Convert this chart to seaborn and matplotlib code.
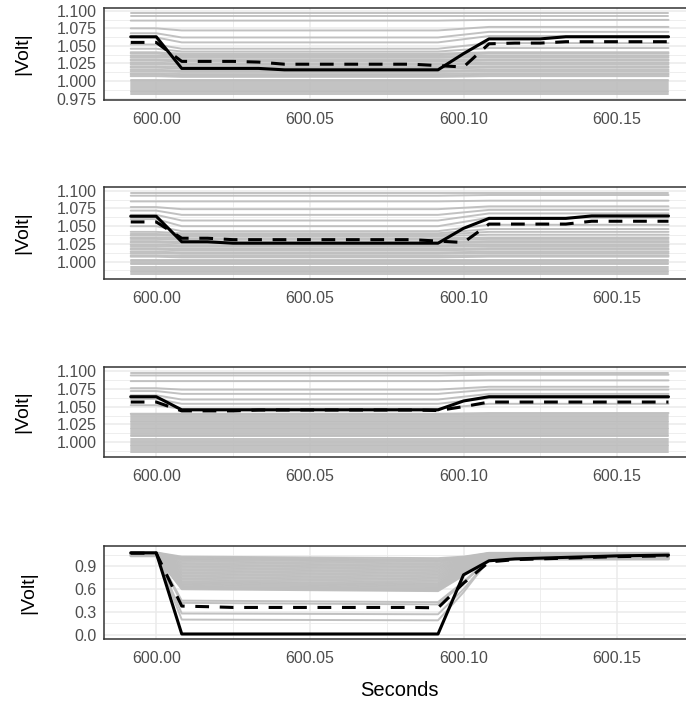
import numpy as np
import pandas as pd
import matplotlib
matplotlib.use("Agg")
import matplotlib.pyplot as plt
import seaborn as sns

# time stamps (seconds)
t = [599.9917, 600.0000, 600.0083, 600.0167, 600.0250, 600.0333, 600.0417, 600.0500,
     600.0583, 600.0667, 600.0750, 600.0833, 600.0917, 600.1000, 600.1083, 600.1167,
     600.1250, 600.1333, 600.1417, 600.1500, 600.1583, 600.1667]

# black lines (solid / dashed) per panel
p1_solid = [1.063, 1.063, 1.018, 1.018, 1.018, 1.018, 1.016, 1.016, 1.016, 1.016, 1.016,
            1.016, 1.016, 1.039, 1.060, 1.060, 1.060, 1.063, 1.063, 1.063, 1.063, 1.063]
p1_dash = [1.055, 1.055, 1.028, 1.028, 1.028, 1.027, 1.024, 1.024, 1.024, 1.024, 1.024,
           1.024, 1.022, 1.020, 1.053, 1.054, 1.054, 1.056, 1.056, 1.056, 1.056, 1.056]
p2_solid = [1.064, 1.064, 1.028, 1.028, 1.026, 1.026, 1.026, 1.026, 1.026, 1.026, 1.026,
            1.026, 1.026, 1.047, 1.061, 1.061, 1.061, 1.061, 1.0645, 1.0645, 1.0645, 1.0645]
p2_dash = [1.056, 1.056, 1.033, 1.033, 1.031, 1.031, 1.031, 1.031, 1.031, 1.031, 1.031,
           1.031, 1.029, 1.027, 1.053, 1.053, 1.053, 1.053, 1.057, 1.057, 1.057, 1.057]
p3_solid = [1.064, 1.064, 1.0455, 1.0455, 1.0455, 1.0455, 1.0455, 1.0455, 1.0455, 1.0455, 1.0455,
            1.0455, 1.0455, 1.058, 1.064, 1.064, 1.064, 1.064, 1.064, 1.064, 1.064, 1.064]
p3_dash = [1.0565, 1.0565, 1.044, 1.044, 1.044, 1.0452, 1.0452, 1.0452, 1.0452, 1.0452, 1.0452,
           1.0452, 1.0445, 1.050, 1.0565, 1.0565, 1.0565, 1.0565, 1.0565, 1.0565, 1.0565, 1.0565]
p4_solid = [1.08, 1.08, 0.01, 0.01, 0.01, 0.01, 0.01, 0.01, 0.01, 0.01, 0.01,
            0.01, 0.01, 0.79, 0.975, 1.00, 1.01, 1.02, 1.03, 1.04, 1.045, 1.05]
p4_dash = [1.075, 1.075, 0.378, 0.37, 0.36, 0.36, 0.36, 0.36, 0.36, 0.36, 0.36,
           0.36, 0.355, 0.68, 0.96, 0.99, 1.00, 1.01, 1.02, 1.03, 1.035, 1.04]

# grey lines (all other buses): level before / during / after the fault
p1_pre = [1.097, 1.093, 1.086, 1.075, 1.068, 1.062, 1.052, 1.046,
          1.041, 1.039, 1.036, 1.034, 1.031, 1.029, 1.026, 1.024, 1.021, 1.019, 1.016, 1.014,
          1.011, 1.009, 1.007, 1.002, 1.000, 0.997, 0.995, 0.991, 0.989, 0.986, 0.984, 0.981]
p1_fault = [1.097, 1.093, 1.086, 1.072, 1.062, 1.055, 1.046, 1.042,
            1.039, 1.037, 1.035, 1.033, 1.030, 1.028, 1.025, 1.023, 1.020, 1.018, 1.015, 1.013,
            1.010, 1.008, 1.006, 1.002, 1.000, 0.997, 0.995, 0.991, 0.989, 0.986, 0.984, 0.981]
p1_post = [1.097, 1.093, 1.087, 1.077, 1.070, 1.064, 1.054, 1.047,
           1.041, 1.039, 1.036, 1.034, 1.031, 1.029, 1.026, 1.024, 1.021, 1.019, 1.016, 1.014,
           1.011, 1.009, 1.007, 1.002, 1.000, 0.997, 0.995, 0.991, 0.989, 0.986, 0.984, 0.981]

p2_pre = [1.097, 1.093, 1.085, 1.077, 1.072, 1.066, 1.060, 1.050,
          1.042, 1.039, 1.037, 1.034, 1.032, 1.029, 1.027, 1.024, 1.022, 1.019, 1.017, 1.014,
          1.012, 1.009, 1.007, 1.003, 1.001, 0.998, 0.996, 0.993, 0.990, 0.987, 0.985, 0.982]
p2_fault = [1.097, 1.093, 1.085, 1.074, 1.066, 1.058, 1.050, 1.043,
            1.040, 1.038, 1.036, 1.033, 1.031, 1.028, 1.026, 1.023, 1.021, 1.018, 1.016, 1.013,
            1.011, 1.008, 1.006, 1.003, 1.001, 0.998, 0.996, 0.993, 0.990, 0.987, 0.985, 0.982]
p2_post = [1.097, 1.094, 1.086, 1.078, 1.073, 1.068, 1.062, 1.052,
           1.046, 1.042, 1.038, 1.034, 1.032, 1.029, 1.027, 1.024, 1.022, 1.019, 1.017, 1.014,
           1.012, 1.009, 1.007, 1.003, 1.001, 0.998, 0.996, 0.993, 0.990, 0.987, 0.985, 0.982]

p3_pre = [1.098, 1.094, 1.086, 1.076, 1.072, 1.066, 1.061, 1.052,
          1.040, 1.038, 1.035, 1.033, 1.030, 1.028, 1.025, 1.023, 1.020, 1.018, 1.015, 1.013,
          1.010, 1.008, 1.005, 1.001, 0.999, 0.996, 0.994, 0.991, 0.989, 0.986]
p3_fault = [1.098, 1.094, 1.086, 1.074, 1.068, 1.060, 1.054, 1.047,
            1.040, 1.038, 1.035, 1.033, 1.030, 1.028, 1.025, 1.023, 1.020, 1.018, 1.015, 1.013,
            1.010, 1.008, 1.005, 1.001, 0.999, 0.996, 0.994, 0.991, 0.989, 0.986]
p3_post = [1.098, 1.095, 1.087, 1.078, 1.074, 1.068, 1.062, 1.054,
           1.041, 1.038, 1.035, 1.033, 1.030, 1.028, 1.025, 1.023, 1.020, 1.018, 1.015, 1.013,
           1.010, 1.008, 1.005, 1.001, 0.999, 0.996, 0.994, 0.991, 0.989, 0.986]

# panel 4 grey lines: pre, fault start, fault end, recovery, post
p4_pre = [1.085, 1.083, 1.081, 1.079, 1.077, 1.075, 1.073, 1.071, 1.069, 1.067, 1.065, 1.063,
          1.061, 1.059, 1.057, 1.055, 1.053, 1.051, 1.049, 1.047, 1.045, 1.043, 1.041, 1.039,
          1.037, 1.035, 1.070, 1.066, 1.062, 1.058]
p4_fstart = [1.030, 1.015, 1.000, 0.985, 0.965, 0.945, 0.925, 0.905, 0.885, 0.865, 0.845, 0.825,
             0.805, 0.785, 0.765, 0.745, 0.725, 0.705, 0.690, 0.675, 0.660, 0.645, 0.630, 0.620,
             0.610, 0.600, 0.450, 0.420, 0.280, 0.200]
p4_fend = [1.010, 0.990, 0.975, 0.960, 0.940, 0.920, 0.900, 0.880, 0.860, 0.840, 0.820, 0.800,
           0.780, 0.760, 0.740, 0.720, 0.700, 0.680, 0.665, 0.650, 0.635, 0.620, 0.605, 0.595,
           0.585, 0.575, 0.430, 0.400, 0.270, 0.190]
p4_rec = [1.030, 1.020, 1.010, 1.000, 0.990, 0.980, 0.970, 0.960, 0.950, 0.940, 0.930, 0.920,
          0.910, 0.900, 0.890, 0.880, 0.870, 0.860, 0.850, 0.840, 0.830, 0.820, 0.810, 0.800,
          0.790, 0.780, 0.700, 0.680, 0.600, 0.560]
p4_post = [1.080, 1.077, 1.074, 1.071, 1.068, 1.065, 1.062, 1.059, 1.056, 1.053, 1.050, 1.047,
           1.044, 1.041, 1.038, 1.035, 1.032, 1.029, 1.026, 1.023, 1.020, 1.017, 1.014, 1.011,
           1.008, 1.005, 1.002, 0.999, 0.996, 0.993]


def grey_frame(levels, times):
    rows = []
    for i, vals in enumerate(zip(*levels)):
        for ti, v in zip(times, vals):
            rows.append((i, ti, v))
    return pd.DataFrame(rows, columns=["bus", "t", "v"])


# times at which the grey levels are placed
t13 = [t[0], t[1], t[2], t[12], t[14], t[21]]
t4 = [t[0], t[1], t[2], t[12], t[13], t[14], t[21]]

grey = [
    grey_frame([p1_pre, p1_pre, p1_fault, p1_fault, p1_post, p1_post], t13),
    grey_frame([p2_pre, p2_pre, p2_fault, p2_fault, p2_post, p2_post], t13),
    grey_frame([p3_pre, p3_pre, p3_fault, p3_fault, p3_post, p3_post], t13),
    grey_frame([p4_pre, p4_pre, p4_fstart, p4_fend, p4_rec, p4_post, p4_post], t4),
]
solids = [p1_solid, p2_solid, p3_solid, p4_solid]
dashes = [p1_dash, p2_dash, p3_dash, p4_dash]

ylims = [(0.9731, 1.1039), (0.9755, 1.1053), (0.979, 1.1059), (-0.056, 1.17)]
yticks = [[0.975, 1.000, 1.025, 1.050, 1.075, 1.100],
          [1.000, 1.025, 1.050, 1.075, 1.100],
          [1.000, 1.025, 1.050, 1.075, 1.100],
          [0.0, 0.3, 0.6, 0.9]]
yfmt = ["{:.3f}", "{:.3f}", "{:.3f}", "{:.1f}"]
ylab_x = [31, 31, 31, 37]

sns.set_theme(style="white")
plt.rcParams["font.family"] = ["Liberation Sans", "DejaVu Sans"]

fig = plt.figure(figsize=(6.86, 7.04), dpi=100)
boxes = [(104, 8, 100), (104, 187, 279), (104, 367, 457), (104, 546, 639)]

for i in range(4):
    left, top, bot = boxes[i]
    ax = fig.add_axes([left / 686, (704 - bot) / 704, 590 / 686, (bot - top) / 704])
    ax.set_facecolor("white")

    # grid like theme_bw
    xt_major = [600.00, 600.05, 600.10, 600.15]
    xt_minor = [599.975, 600.025, 600.075, 600.125, 600.175]
    lo, hi = ylims[i]
    ymaj = yticks[i]
    step = ymaj[1] - ymaj[0]
    ymin = [y + step / 2 for y in [ymaj[0] - step] + ymaj]
    for x in xt_minor:
        ax.axvline(x, color="#EBEBEB", lw=0.6, zorder=0)
    for y in ymin:
        ax.axhline(y, color="#EBEBEB", lw=0.6, zorder=0)
    for x in xt_major:
        ax.axvline(x, color="#EBEBEB", lw=1.1, zorder=0)
    for y in ymaj:
        ax.axhline(y, color="#EBEBEB", lw=1.1, zorder=0)

    sns.lineplot(data=grey[i], x="t", y="v", units="bus", estimator=None,
                 color="#BEBEBE", lw=1.4, alpha=0.95, ax=ax, sort=False)
    sns.lineplot(x=t, y=dashes[i], color="black", lw=2.2, ax=ax,
                 linestyle=(0, (4.5, 3.5)))
    sns.lineplot(x=t, y=solids[i], color="black", lw=2.2, ax=ax)

    ax.set_xlim(599.983, 600.175)
    ax.set_ylim(lo, hi)
    ax.set_xticks(xt_major)
    ax.set_xticklabels(["600.00", "600.05", "600.10", "600.15"])
    ax.set_yticks(ymaj)
    ax.set_yticklabels([yfmt[i].format(y) for y in ymaj])
    ax.tick_params(axis="both", labelsize=11.5, labelcolor="#4D4D4D", color="#333333",
                   length=3.5, width=1.0, direction="out", pad=2)
    ax.tick_params(axis="x", pad=5)
    for s in ax.spines.values():
        s.set_color("#333333")
        s.set_linewidth(1.1)
    ax.set_ylabel("|Volt|", fontsize=14, color="black")
    ax.yaxis.set_label_coords((ylab_x[i] - left) / 590, 0.5)
    if i == 3:
        ax.set_xlabel("Seconds", fontsize=14.5, color="black", labelpad=11)
    else:
        ax.set_xlabel("")

fig.savefig("out.png", dpi=100)
